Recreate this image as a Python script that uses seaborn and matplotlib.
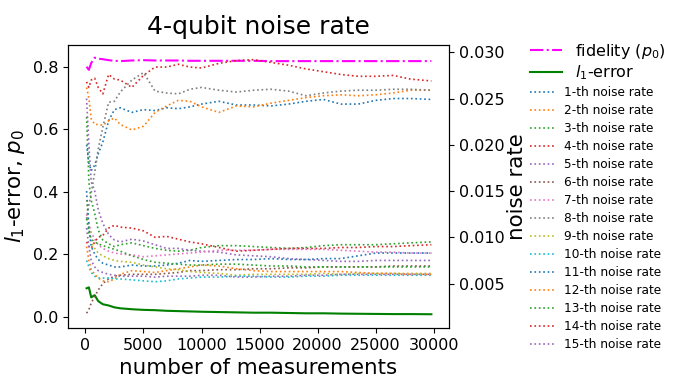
import numpy as np
import pandas as pd
import matplotlib
matplotlib.use('Agg')
import matplotlib.pyplot as plt
import seaborn as sns

# number of measurements (shared x for all series)
measurements = [100, 300, 500, 800, 1100, 1500, 2000, 2500, 3000, 4000, 5000, 6000, 7000, 8000,
                9000, 10000, 11500, 13000, 14500, 16000, 17500, 19000, 20500, 22000, 23500,
                25000, 26500, 28000, 29800]

fidelity = [0.800, 0.790, 0.812, 0.829, 0.826, 0.824, 0.821, 0.819, 0.818, 0.820, 0.821, 0.820,
            0.820, 0.820, 0.819, 0.819, 0.819, 0.819, 0.819, 0.818, 0.818, 0.818, 0.818, 0.818,
            0.818, 0.818, 0.818, 0.818, 0.818]

l1_error = [0.091, 0.094, 0.062, 0.069, 0.050, 0.040, 0.036, 0.030, 0.027, 0.024, 0.022, 0.021,
            0.019, 0.018, 0.017, 0.016, 0.015, 0.014, 0.013, 0.013, 0.012, 0.011, 0.011, 0.010,
            0.0095, 0.009, 0.0085, 0.0085, 0.008]

rate_1 = [0.0200, 0.0180, 0.0172, 0.0178, 0.0190, 0.0203, 0.0226, 0.0238, 0.0240, 0.0235, 0.0238,
          0.0237, 0.0240, 0.0239, 0.0241, 0.0244, 0.0247, 0.0243, 0.0243, 0.0242, 0.0244, 0.0247,
          0.0249, 0.0244, 0.0244, 0.0248, 0.0250, 0.0250, 0.0249]
rate_2 = [0.0262, 0.0250, 0.0228, 0.0222, 0.0222, 0.0221, 0.0226, 0.0229, 0.0222, 0.0216, 0.0220,
          0.0235, 0.0242, 0.0248, 0.0247, 0.0241, 0.0235, 0.0242, 0.0241, 0.0245, 0.0248, 0.0251,
          0.0253, 0.0254, 0.0253, 0.0254, 0.0256, 0.0259, 0.0259]
rate_3 = [0.0230, 0.0160, 0.0140, 0.0126, 0.0108, 0.0097, 0.0093, 0.0090, 0.0092, 0.0094, 0.0091,
          0.0088, 0.0086, 0.0085, 0.0086, 0.0089, 0.0091, 0.0091, 0.0090, 0.0089, 0.0088, 0.0089,
          0.0091, 0.0092, 0.0092, 0.0092, 0.0093, 0.0094, 0.0095]
rate_4 = [0.0268, 0.0262, 0.0270, 0.0272, 0.0262, 0.0255, 0.0276, 0.0271, 0.0270, 0.0262, 0.0275,
          0.0284, 0.0284, 0.0287, 0.0284, 0.0283, 0.0288, 0.0291, 0.0292, 0.0289, 0.0286, 0.0282,
          0.0279, 0.0276, 0.0274, 0.0274, 0.0275, 0.0271, 0.0269]
rate_5 = [0.0250, 0.0200, 0.0160, 0.0150, 0.0130, 0.0115, 0.0103, 0.0097, 0.0095, 0.0098, 0.0096,
          0.0092, 0.0088, 0.0088, 0.0086, 0.0085, 0.0084, 0.0081, 0.0080, 0.0079, 0.0077, 0.0076,
          0.0075, 0.0074, 0.0074, 0.0075, 0.0075, 0.0075, 0.0075]
rate_6 = [0.0018, 0.0022, 0.0029, 0.0036, 0.0043, 0.0050, 0.0055, 0.0058, 0.0059, 0.0060, 0.0060,
          0.0060, 0.0061, 0.0062, 0.0064, 0.0064, 0.0065, 0.0065, 0.0066, 0.0066, 0.0067, 0.0067,
          0.0068, 0.0068, 0.0068, 0.0068, 0.0069, 0.0069, 0.0069]
rate_7 = [0.0125, 0.0115, 0.0105, 0.0098, 0.0092, 0.0088, 0.0085, 0.0083, 0.0082, 0.0081, 0.0079,
          0.0080, 0.0081, 0.0082, 0.0083, 0.0084, 0.0086, 0.0086, 0.0086, 0.0087, 0.0087, 0.0087,
          0.0087, 0.0086, 0.0085, 0.0084, 0.0084, 0.0083, 0.0083]
rate_8 = [0.0120, 0.0135, 0.0148, 0.0170, 0.0195, 0.0219, 0.0246, 0.0247, 0.0257, 0.0270, 0.0278,
          0.0258, 0.0256, 0.0255, 0.0260, 0.0262, 0.0259, 0.0257, 0.0259, 0.0260, 0.0258, 0.0253,
          0.0256, 0.0258, 0.0259, 0.0259, 0.0260, 0.0260, 0.0259]
rate_9 = [0.0140, 0.0115, 0.0095, 0.0088, 0.0083, 0.0080, 0.0077, 0.0075, 0.0074, 0.0073, 0.0070,
          0.0068, 0.0066, 0.0065, 0.0063, 0.0062, 0.0061, 0.0059, 0.0060, 0.0060, 0.0060, 0.0060,
          0.0061, 0.0060, 0.0061, 0.0061, 0.0061, 0.0061, 0.0061]
rate_10 = [0.0075, 0.0068, 0.0062, 0.0058, 0.0056, 0.0056, 0.0056, 0.0055, 0.0055, 0.0054, 0.0053,
           0.0052, 0.0053, 0.0055, 0.0056, 0.0057, 0.0057, 0.0058, 0.0058, 0.0057, 0.0057, 0.0058,
           0.0058, 0.0059, 0.0059, 0.0059, 0.0059, 0.0059, 0.0059]
rate_11 = [0.0150, 0.0110, 0.0090, 0.0082, 0.0076, 0.0072, 0.0070, 0.0068, 0.0068, 0.0070, 0.0069,
           0.0069, 0.0070, 0.0072, 0.0075, 0.0074, 0.0075, 0.0076, 0.0076, 0.0077, 0.0076, 0.0076,
           0.0077, 0.0077, 0.0080, 0.0083, 0.0083, 0.0083, 0.0083]
rate_12 = [0.0090, 0.0075, 0.0065, 0.0060, 0.0056, 0.0053, 0.0052, 0.0055, 0.0060, 0.0064, 0.0063,
           0.0062, 0.0064, 0.0066, 0.0068, 0.0070, 0.0069, 0.0066, 0.0064, 0.0063, 0.0063, 0.0063,
           0.0063, 0.0063, 0.0062, 0.0061, 0.0061, 0.0060, 0.0060]
rate_13 = [0.0120, 0.0105, 0.0098, 0.0095, 0.0093, 0.0091, 0.0089, 0.0087, 0.0085, 0.0080, 0.0076,
           0.0073, 0.0072, 0.0071, 0.0070, 0.0070, 0.0071, 0.0071, 0.0070, 0.0069, 0.0069, 0.0068,
           0.0068, 0.0068, 0.0068, 0.0068, 0.0068, 0.0068, 0.0068]
rate_14 = [0.0095, 0.0090, 0.0088, 0.0095, 0.0100, 0.0102, 0.0110, 0.0113, 0.0111, 0.0110, 0.0107,
           0.0100, 0.0101, 0.0098, 0.0095, 0.0093, 0.0089, 0.0085, 0.0086, 0.0087, 0.0088, 0.0088,
           0.0088, 0.0089, 0.0089, 0.0090, 0.0090, 0.0091, 0.0092]
rate_15 = [0.0110, 0.0090, 0.0075, 0.0068, 0.0064, 0.0062, 0.0060, 0.0059, 0.0058, 0.0058, 0.0058,
           0.0057, 0.0058, 0.0058, 0.0058, 0.0059, 0.0059, 0.0057, 0.0057, 0.0058, 0.0058, 0.0059,
           0.0059, 0.0060, 0.0060, 0.0060, 0.0060, 0.0060, 0.0060]

noise_rates = [rate_1, rate_2, rate_3, rate_4, rate_5, rate_6, rate_7, rate_8, rate_9, rate_10,
               rate_11, rate_12, rate_13, rate_14, rate_15]

fig, ax = plt.subplots(figsize=(6.8, 3.77), dpi=100)
fig.subplots_adjust(left=0.1, right=0.66, top=0.881, bottom=0.13)
ax2 = ax.twinx()

sns.lineplot(x=measurements, y=fidelity, ax=ax, color='magenta', linestyle='-.', lw=1.5,
             label='fidelity ($p_0$)')
sns.lineplot(x=measurements, y=l1_error, ax=ax, color='green', lw=1.5, label='$l_1$-error')

colors = sns.color_palette('tab10', 10)
for i, rate in enumerate(noise_rates):
    sns.lineplot(x=measurements, y=rate, ax=ax2, color=colors[i % 10], linestyle=':', lw=1.2,
                 label=f'{i + 1}-th noise rate')

ax.set_xlim(-1500, 31300)
ax.set_ylim(-0.036, 0.870)
ax2.set_ylim(0.0002, 0.0308)

ax.set_title('4-qubit noise rate', fontsize=18, pad=8)
ax.set_xlabel('number of measurements', fontsize=15.4)
ax.set_ylabel('$l_1$-error, $p_0$', fontsize=15.4)
ax2.set_ylabel('noise rate', fontsize=15.4, labelpad=2)
ax.tick_params(labelsize=11.5)
ax2.tick_params(labelsize=11.5)

leg1 = ax.legend(loc='upper left', bbox_to_anchor=(0.759, 0.928), bbox_transform=fig.transFigure,
                 frameon=False, fontsize=11.5, labelspacing=0.2)
ax2.legend(loc='upper left', bbox_to_anchor=(0.763, 0.80), bbox_transform=fig.transFigure,
           frameon=False, fontsize=8.75, labelspacing=0.41)

plt.savefig('out.png', dpi=100)
